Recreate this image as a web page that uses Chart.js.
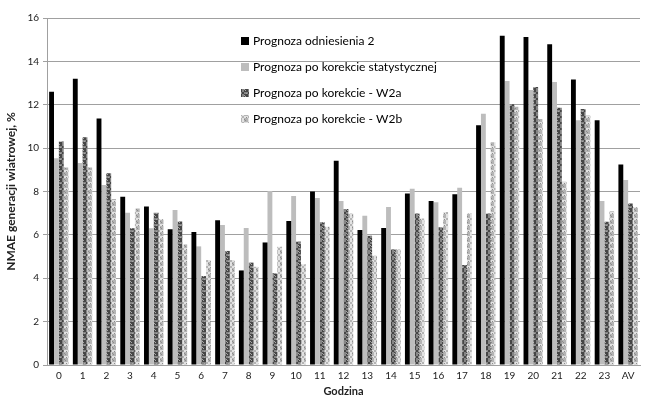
<!DOCTYPE html>
<html>
<head>
<meta charset="utf-8">
<script src="https://cdn.jsdelivr.net/npm/chart.js@4/dist/chart.umd.min.js"></script>
<style>
  html, body { margin: 0; padding: 0; background: #fff; }
  #wrap { width: 645px; height: 400px; position: relative; }
</style>
</head>
<body>
<div id="wrap"><canvas id="c" width="645" height="400"></canvas></div>
<script>
const hours = ['0','1','2','3','4','5','6','7','8','9','10','11','12','13','14','15','16','17','18','19','20','21','22','23','AV'];
const seriesNames = [
  'Prognoza odniesienia 2',
  'Prognoza po korekcie statystycznej',
  'Prognoza po korekcie - W2a',
  'Prognoza po korekcie - W2b'
];
const ref2   = [12.6, 13.2, 11.37, 7.76, 7.31, 6.26, 6.13, 6.67, 4.36, 5.65, 6.64, 8.0, 9.42, 6.22, 6.32, 7.91, 7.56, 7.87, 11.05, 15.18, 15.12, 14.79, 13.17, 11.28, 9.25];
const stat   = [9.53, 9.31, 8.3, 7.02, 6.3, 7.15, 5.47, 6.45, 6.32, 8.02, 7.79, 7.7, 7.56, 6.88, 7.28, 8.13, 7.51, 8.17, 11.59, 13.1, 12.68, 13.05, 11.28, 7.56, 8.53];
const w2a    = [10.3, 10.5, 8.84, 6.3, 7.02, 6.62, 4.1, 5.26, 4.72, 4.23, 5.69, 6.58, 7.19, 5.96, 5.33, 6.98, 6.35, 4.61, 6.98, 12.02, 12.82, 11.86, 11.8, 6.61, 7.45];
const w2b    = [9.11, 9.11, 7.65, 7.22, 6.72, 5.56, 4.84, 4.84, 4.53, 5.45, 4.64, 6.38, 6.98, 5.04, 5.33, 6.76, 7.05, 6.98, 10.27, 11.91, 11.34, 8.45, 11.51, 7.09, 7.27];
const yTicks = [0, 2, 4, 6, 8, 10, 12, 14, 16];

// mottled repeating fills for the two textured series
function makePattern(rows, colors) {
  const p = document.createElement('canvas');
  p.width = rows[0].length; p.height = rows.length;
  const g = p.getContext('2d');
  rows.forEach((r, y) => {
    for (let x = 0; x < r.length; x++) {
      g.fillStyle = colors[r[x]];
      g.fillRect(x, y, 1, 1);
    }
  });
  return g.createPattern(p, 'repeat');
}
const ctx = document.getElementById('c').getContext('2d');
const grid = [
  'aabbac',
  'aabbaa',
  'bbaabb',
  'cbaabb',
  'aabbaa',
  'aabbca'
];
const patA = makePattern(grid, { a: '#464646', b: '#858585', c: '#a8a8a8' });
const patB = makePattern(grid, { a: '#b4b4b4', b: '#e2e2e2', c: '#8c8c8c' });

const FONT = 'Lato, "Open Sans", sans-serif';

// legend drawn inside the plot area as a single column
const innerLegend = {
  id: 'innerLegend',
  afterDraw(chart) {
    const c = chart.ctx;
    const x0 = 241, ys = [41, 67, 93, 119];
    c.save();
    c.font = '12px ' + FONT;
    c.textBaseline = 'middle';
    chart.data.datasets.forEach((ds, i) => {
      c.fillStyle = ds.backgroundColor;
      c.fillRect(x0, ys[i] - 4, 8, 8);
      c.fillStyle = '#000';
      c.fillText(ds.label, x0 + 12, ys[i]);
    });
    c.restore();
  }
};

new Chart(ctx, {
  type: 'bar',
  data: {
    labels: hours,
    datasets: [
      { label: seriesNames[0], data: ref2, backgroundColor: '#000000' },
      { label: seriesNames[1], data: stat, backgroundColor: '#bdbdbd' },
      { label: seriesNames[2], data: w2a,  backgroundColor: patA },
      { label: seriesNames[3], data: w2b,  backgroundColor: patB }
    ]
  },
  options: {
    responsive: false,
    animation: false,
    devicePixelRatio: 1,
    layout: { padding: { left: 4, right: 5, top: 18, bottom: 2 } },
    datasets: { bar: { categoryPercentage: 0.82, barPercentage: 1.0 } },
    plugins: {
      legend: { display: false },
      tooltip: { enabled: false }
    },
    scales: {
      x: {
        grid: { display: false, drawTicks: false },
        border: { color: '#a0a0a0' },
        ticks: { color: '#222', font: { family: FONT, size: 10 }, padding: 5, maxRotation: 0, autoSkip: false },
        title: { display: true, text: 'Godzina', color: '#222', font: { family: FONT, size: 11, weight: 'bold' }, padding: { top: 0, bottom: 0 } },
        afterFit(s) { s.height = 33; }
      },
      y: {
        min: 0, max: 16,
        afterBuildTicks(s) { s.ticks = yTicks.map(v => ({ value: v })); },
        grid: { color: '#a0a0a0', tickLength: 4, tickColor: '#a0a0a0' },
        border: { color: '#a0a0a0' },
        ticks: { color: '#222', font: { family: FONT, size: 10 }, padding: 4 },
        title: { display: true, text: 'NMAE generacji wiatrowej, %', color: '#222', font: { family: FONT, size: 12, weight: 'bold' }, padding: { top: 0, bottom: 3 } },
        afterFit(s) { s.width = 43; }
      }
    }
  },
  plugins: [innerLegend]
});
</script>
</body>
</html>
